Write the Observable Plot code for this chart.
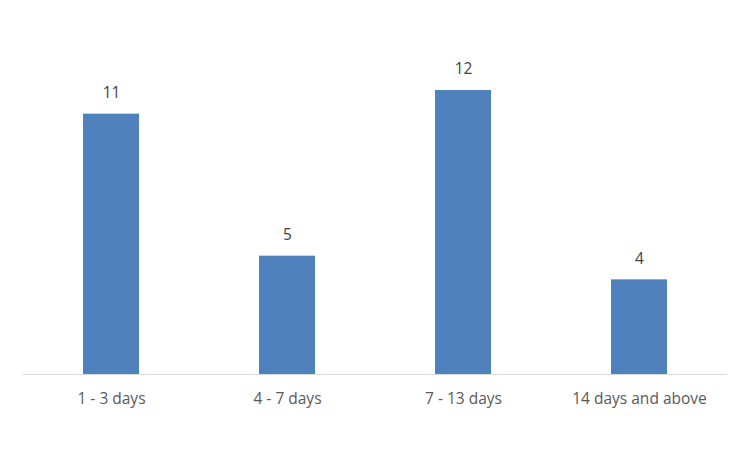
<!DOCTYPE html>
<html>
<head>
<meta charset="utf-8">
<script src="https://cdn.jsdelivr.net/npm/d3@7"></script>
<script src="https://cdn.jsdelivr.net/npm/@observablehq/plot@0.6"></script>
<style>
  html, body { margin: 0; padding: 0; background: #fff; }
  #chart svg { display: block; }
</style>
</head>
<body>
<div id="chart"></div>
<script>
// Length of stay, grouped into day ranges
const categories = ["1 - 3 days", "4 - 7 days", "7 - 13 days", "14 days and above"];
const counts = [11, 5, 12, 4];

const data = categories.map((c, i) => ({category: c, count: counts[i]}));

const chart = Plot.plot({
  width: 750,
  height: 450,
  marginTop: 90,
  marginBottom: 76,
  marginLeft: 23,
  marginRight: 23,
  style: {fontFamily: "'Open Sans', sans-serif", fontSize: "15.5px", background: "#fff"},
  x: {domain: categories, paddingInner: 0.682, paddingOuter: 0.341, label: null},
  y: {domain: [0, 12], axis: null},
  marks: [
    Plot.barY(data, {x: "category", y: "count", fill: "#4F81BD"}),
    Plot.ruleY([0], {stroke: "#D9D9D9", strokeWidth: 1}),
    Plot.text(data, {x: "category", y: "count", text: d => String(d.count), dy: -21, fill: "#404040", fontSize: 15.5}),
    Plot.axisX({tickSize: 0, tickPadding: 18, fontSize: 15.5, color: "#595959", label: null})
  ]
});

document.getElementById("chart").append(chart);
</script>
</body>
</html>
